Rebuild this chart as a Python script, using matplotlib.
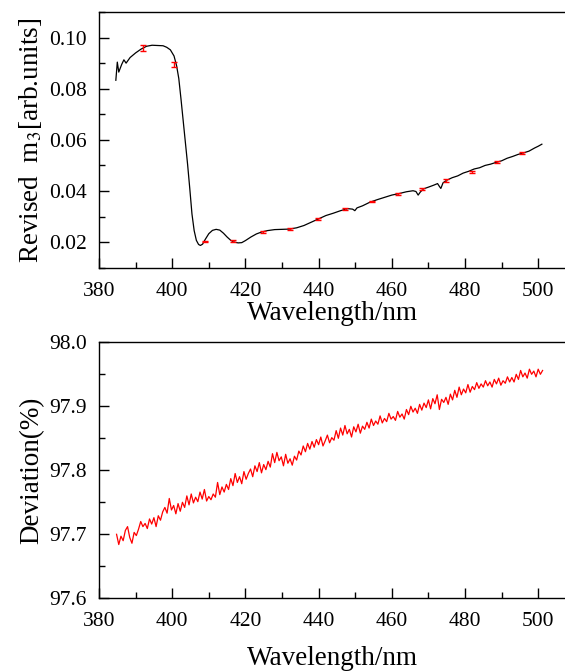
import numpy as np
import matplotlib
matplotlib.use("Agg")
import matplotlib.pyplot as plt
from matplotlib.ticker import MultipleLocator, FormatStrFormatter

# top panel: revised m3 curve
wl = [384.6, 385.0, 385.4, 386.2, 386.8, 387.4, 388.5, 390.0, 391.5, 393.0,
      394.5, 396.0, 397.5, 398.5, 399.5, 400.5, 401.2, 401.8, 402.4, 403.0,
      403.6, 404.2, 404.8, 405.4, 406.0, 406.6, 407.2, 407.7, 408.3, 409.0,
      410.0, 411.0, 412.0, 413.0, 414.0, 415.0, 416.0, 417.0, 418.0, 419.0,
      420.0, 421.5, 423.0, 424.5, 426.0, 428.0, 430.0, 432.0, 434.0, 436.0,
      438.0, 440.0, 442.0, 444.0, 446.0, 448.0, 449.3, 449.9, 450.5, 452.0,
      454.0, 456.0, 458.0, 460.0, 462.0, 464.0, 465.8, 466.6, 467.2, 467.8,
      468.6, 470.0, 471.5, 472.5, 473.0, 473.4, 474.0, 475.0, 476.5, 478.0,
      479.5, 481.0, 482.5, 484.0, 485.5, 487.0, 488.5, 490.0, 491.5, 493.0,
      494.5, 496.0, 497.5, 499.0, 500.0, 501.0]
m3 = [0.0833, 0.0904, 0.0865, 0.0895, 0.0913, 0.0900, 0.0922, 0.0940, 0.0955, 0.0966,
      0.0970, 0.0969, 0.0968, 0.0962, 0.0952, 0.0928, 0.0890, 0.0840, 0.0760, 0.0675,
      0.0590, 0.0505, 0.0410, 0.0310, 0.0245, 0.0207, 0.0191, 0.0187, 0.0192, 0.0210,
      0.0233, 0.0246, 0.0250, 0.0247, 0.0235, 0.0220, 0.0207, 0.0200, 0.0197, 0.0198,
      0.0206, 0.0220, 0.0232, 0.0240, 0.0245, 0.0249, 0.0250, 0.0251, 0.0256, 0.0265,
      0.0278, 0.0291, 0.0304, 0.0313, 0.0323, 0.0331, 0.0329, 0.0323, 0.0334, 0.0342,
      0.0356, 0.0366, 0.0375, 0.0384, 0.0390, 0.0397, 0.0401, 0.0398, 0.0384, 0.0396,
      0.0408, 0.0415, 0.0423, 0.0429, 0.0418, 0.0410, 0.0432, 0.0442, 0.0452, 0.0459,
      0.0470, 0.0477, 0.0486, 0.0491, 0.0500, 0.0505, 0.0512, 0.0518, 0.0528, 0.0535,
      0.0543, 0.0549, 0.0556, 0.0568, 0.0575, 0.0583]

# error bar points
err_wl = [392.0, 400.5, 409.0, 416.6, 424.7, 432.2, 439.8, 447.2, 454.5, 461.6,
          468.3, 474.9, 481.9, 488.7, 495.6]
err_m3 = [0.0960, 0.0895, 0.0203, 0.0205, 0.0240, 0.0251, 0.0291, 0.0330, 0.0358, 0.0388,
          0.0407, 0.0441, 0.0476, 0.0512, 0.0548]
err_sd = [0.0012, 0.0010, 0.0003, 0.0003, 0.0003, 0.0003, 0.0003, 0.0003, 0.0003, 0.0004,
          0.0004, 0.0004, 0.0004, 0.0004, 0.0005]

# bottom panel: deviation (%)
dev = [97.700, 97.684, 97.697, 97.690, 97.706, 97.712, 97.695, 97.686, 97.703, 97.698,
       97.708, 97.720, 97.712, 97.717, 97.709, 97.724, 97.716, 97.726, 97.712, 97.729,
       97.722, 97.735, 97.742, 97.733, 97.756, 97.738, 97.745, 97.732, 97.748, 97.736,
       97.750, 97.742, 97.760, 97.746, 97.763, 97.749, 97.758, 97.751, 97.766, 97.755,
       97.770, 97.752, 97.759, 97.754, 97.763, 97.758, 97.781, 97.762, 97.774, 97.766,
       97.778, 97.770, 97.787, 97.776, 97.795, 97.781, 97.790, 97.779, 97.798, 97.786,
       97.795, 97.802, 97.790, 97.807, 97.798, 97.812, 97.796, 97.809, 97.801, 97.814,
       97.805, 97.826, 97.812, 97.828, 97.815, 97.821, 97.807, 97.825, 97.811, 97.818,
       97.808, 97.822, 97.816, 97.830, 97.824, 97.838, 97.829, 97.842, 97.833, 97.845,
       97.836, 97.848, 97.840, 97.852, 97.838, 97.846, 97.855, 97.843, 97.851, 97.847,
       97.862, 97.850, 97.866, 97.855, 97.870, 97.857, 97.864, 97.852, 97.868, 97.860,
       97.872, 97.858, 97.869, 97.864, 97.875, 97.866, 97.880, 97.870, 97.877, 97.872,
       97.885, 97.874, 97.881, 97.876, 97.889, 97.880, 97.884, 97.878, 97.892, 97.883,
       97.888, 97.880, 97.895, 97.887, 97.900, 97.891, 97.897, 97.889, 97.903, 97.894,
       97.905, 97.898, 97.910, 97.896, 97.912, 97.904, 97.918, 97.895, 97.911, 97.906,
       97.914, 97.903, 97.919, 97.910, 97.925, 97.914, 97.930, 97.918, 97.927, 97.921,
       97.934, 97.922, 97.931, 97.926, 97.937, 97.928, 97.935, 97.930, 97.940, 97.932,
       97.938, 97.930, 97.942, 97.935, 97.944, 97.933, 97.940, 97.936, 97.946, 97.938,
       97.945, 97.938, 97.950, 97.942, 97.956, 97.946, 97.952, 97.944, 97.958, 97.950,
       97.955, 97.946, 97.958, 97.950, 97.956]
dev_wl = np.linspace(384.8, 501.2, len(dev))

plt.rcParams["font.family"] = ["Liberation Serif", "DejaVu Serif"]
plt.rcParams["mathtext.fontset"] = "stix"

fig = plt.figure(figsize=(5.65, 6.72), dpi=100)
ax1 = fig.add_axes([99 / 565, 404.3 / 672, 466 / 565, 255.7 / 672])
ax2 = fig.add_axes([99 / 565, 73.7 / 672, 466 / 565, 256 / 672])

ax1.plot(wl, m3, color="black", lw=0.9)
ax1.errorbar(err_wl, err_m3, yerr=err_sd, fmt="none", ecolor="red",
             elinewidth=1.0, capsize=2.5, capthick=1.0)
ax1.set_ylim(0.01, 0.11)
ax1.yaxis.set_major_locator(MultipleLocator(0.02))
ax1.yaxis.set_minor_locator(MultipleLocator(0.01))
ax1.yaxis.set_major_formatter(FormatStrFormatter("%.2f"))
ax1.set_ylabel("Revised  m$_3$[arb.units]", fontsize=19.5, labelpad=3)
ax1.set_xlabel("Wavelength/nm", fontsize=19.5, labelpad=0)

ax2.plot(dev_wl, dev, color="red", lw=0.9)
ax2.set_ylim(97.6, 98.0)
ax2.yaxis.set_major_locator(MultipleLocator(0.1))
ax2.yaxis.set_minor_locator(MultipleLocator(0.05))
ax2.yaxis.set_major_formatter(FormatStrFormatter("%.1f"))
ax2.set_ylabel("Deviation(%)", fontsize=19.5, labelpad=3)
ax2.set_xlabel("Wavelength/nm", fontsize=19.5, labelpad=11)

for ax in (ax1, ax2):
    ax.set_xlim(380, 380 + 466 / 3.66)
    ax.xaxis.set_major_locator(MultipleLocator(20))
    ax.xaxis.set_minor_locator(MultipleLocator(10))
    ax.spines["right"].set_visible(False)
    ax.tick_params(which="both", direction="in", top=False, right=False,
                   labelsize=15.5, width=1.0)
    ax.tick_params(axis="x", pad=10)
    ax.tick_params(axis="y", pad=9)
    ax.tick_params(which="major", length=7)
    ax.tick_params(which="minor", length=4)
    for s in ax.spines.values():
        s.set_linewidth(1.0)

fig.savefig("out.png", dpi=100)
